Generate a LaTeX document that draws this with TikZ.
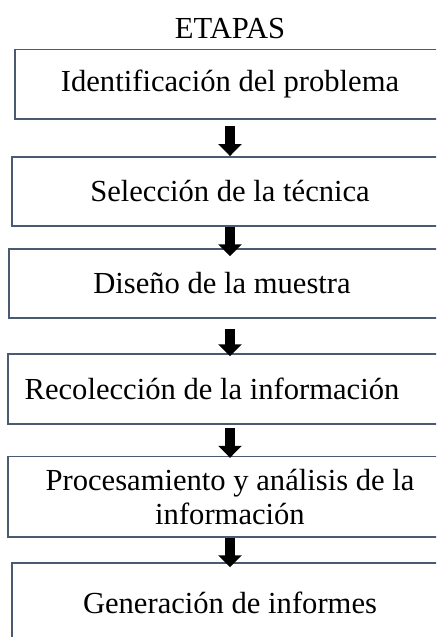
\documentclass[tikz,border=0pt]{standalone}
\usepackage{fontspec}
\setmainfont{Liberation Serif}
\usetikzlibrary{arrows.meta}
\definecolor{stageline}{HTML}{4A5A70}

\begin{document}
\begin{tikzpicture}[
  x=0.5pt, y=-0.5pt,
  font=\fontsize{15.3}{17}\selectfont,
  title/.style={inner sep=0pt},
  stage/.style={draw=stageline, line width=0.75pt, align=center, inner sep=2pt},
  nudge/.style={execute at end node={\hspace*{#1}}},
  flow/.style={draw=black, line width=5pt, -{Triangle[width=11.5pt, length=6pt]}}
]
\useasboundingbox (0,0) rectangle (436,637);
\clip (0,0) rectangle (436,637);
\node[title] (etapas) at (230,29) {ETAPAS};
\node[stage, minimum width=215pt, minimum height=34.75pt] (b1) at (230,84.3) {Identificación del problema};
\node[stage, minimum width=218pt, minimum height=34.5pt] (b2) at (230,191.3) {Selección de la técnica};
\node[stage, minimum width=221pt, minimum height=34.5pt, nudge=8pt] (b3) at (230,283.5) {Diseño de la muestra};
\node[stage, minimum width=222pt, minimum height=35pt, nudge=18pt] (b4) at (230,389) {Recolección de la información};
\node[stage, minimum width=222pt, minimum height=40.25pt] (b5) at (230,496.8) {Procesamiento y análisis de la\\información};
\node[stage, minimum width=218pt, minimum height=40pt] (b6) at (230,603) {Generación de informes};
\draw[flow, shorten <=3pt] (b1.south) -- (b2.north);
\draw[flow, shorten >=-4pt] (b2.south) -- (b3.north);
\draw[flow, shorten <=5pt, shorten >=-1.5pt] (b3.south) -- (b4.north);
\draw[flow, shorten <=1.5pt, shorten >=-1pt] (b4.south) -- (b5.north);
\draw[flow, shorten >=-2.5pt] (b5.south) -- (b6.north);
\end{tikzpicture}
\end{document}
